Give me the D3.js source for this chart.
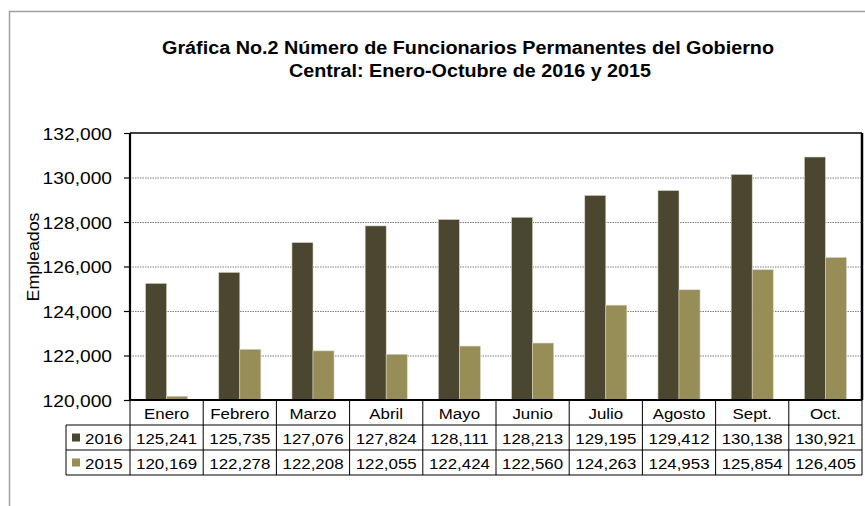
<!DOCTYPE html>
<html>
<head>
<meta charset="utf-8">
<script src="https://cdn.jsdelivr.net/npm/d3@7"></script>
<style>
  body { margin: 0; background: #fff; }
  svg { font-family: Arial, "Liberation Sans", sans-serif; }
  .grid line { stroke: #808080; stroke-dasharray: 1.5 1; }
  .grid path { display: none; }
</style>
</head>
<body>
<div id="chart"></div>
<script>
var months = ["Enero", "Febrero", "Marzo", "Abril", "Mayo", "Junio", "Julio", "Agosto", "Sept.", "Oct."];
var years = ["2016", "2015"];
var values2016 = [125241, 125735, 127076, 127824, 128111, 128213, 129195, 129412, 130138, 130921];
var values2015 = [120169, 122278, 122208, 122055, 122424, 122560, 124263, 124953, 125854, 126405];
var yTicks = [120000, 122000, 124000, 126000, 128000, 130000, 132000];
var colors = ["#4b462f", "#968d57"];

var W = 865, H = 506;
var margin = { top: 133, right: 3, bottom: 106, left: 130 },
    width = W - margin.left - margin.right,
    height = H - margin.top - margin.bottom;
var rowH = 25;
var sx = 1.13;   // the reference text is a bit wider than plain Arial
var sxTab = 1.09;

var series = [values2016, values2015];
var fmt = d3.format(",");

// put a text at (x, y) stretched horizontally
function stretched(sel, x, y, s) {
  return sel.attr("transform", "translate(" + x + "," + y + ") scale(" + (s || sx) + ",1)");
}

var svg = d3.select("#chart").append("svg")
    .attr("width", W)
    .attr("height", H);

// outer chart frame
svg.append("rect")
    .attr("x", 9.5).attr("y", 11.5)
    .attr("width", W).attr("height", H)
    .attr("fill", "none")
    .attr("stroke", "#a0a0a0")
    .attr("stroke-width", 1.5);

svg.append("text")
    .attr("x", 468).attr("y", 54)
    .attr("text-anchor", "middle")
    .attr("textLength", 612).attr("lengthAdjust", "spacingAndGlyphs")
    .style("font-weight", "bold").style("font-size", "18px")
    .text("Gráfica No.2 Número de Funcionarios Permanentes del Gobierno");
svg.append("text")
    .attr("x", 470).attr("y", 77)
    .attr("text-anchor", "middle")
    .attr("textLength", 362).attr("lengthAdjust", "spacingAndGlyphs")
    .style("font-weight", "bold").style("font-size", "18px")
    .text("Central: Enero-Octubre de 2016 y 2015");

var g = svg.append("g")
    .attr("transform", "translate(" + margin.left + "," + margin.top + ")");

var x = d3.scaleBand()
    .domain(months)
    .range([0, width]);

var x1 = d3.scaleBand()
    .domain(years)
    .range([0, x.bandwidth()])
    .paddingOuter(0.74)
    .paddingInner(0);

var y = d3.scaleLinear()
    .domain([120000, 132000])
    .range([height, 0]);

// gridlines
g.append("g")
    .attr("class", "grid")
    .call(d3.axisLeft(y).tickValues(yTicks.slice(1, -1)).tickSize(-width).tickFormat(""));

// bars
var groups = g.selectAll(".month")
    .data(months)
    .enter().append("g")
    .attr("class", "month")
    .attr("transform", function(d) { return "translate(" + x(d) + ",0)"; });

groups.selectAll("rect")
    .data(function(d, i) { return years.map(function(yr, k) { return { year: yr, k: k, v: series[k][i] }; }); })
    .enter().append("rect")
    .attr("x", function(d) { return x1(d.year); })
    .attr("y", function(d) { return y(d.v); })
    .attr("width", x1.bandwidth())
    .attr("height", function(d) { return height - y(d.v); })
    .attr("fill", function(d) { return colors[d.k]; })
    .attr("stroke", "#d8d4c0")
    .attr("stroke-width", 0.6);

// plot frame
g.append("line").attr("x1", 0).attr("x2", width).attr("y1", 0).attr("y2", 0)
    .attr("stroke", "#000").attr("stroke-width", 1.5);
g.append("line").attr("x1", width).attr("x2", width).attr("y1", 0).attr("y2", height)
    .attr("stroke", "#000").attr("stroke-width", 2.5);

// y axis
var yAxis = g.append("g")
    .call(d3.axisLeft(y).tickValues(yTicks).tickSize(6).tickFormat(fmt));
yAxis.select(".domain").attr("stroke-width", 2.2).attr("d", "M0,0V" + height);
yAxis.selectAll(".tick line").attr("stroke-width", 1.2);
yAxis.selectAll("text")
    .attr("x", null).attr("dy", null)
    .attr("y", 6)
    .attr("transform", "translate(-18,0) scale(" + sx + ",1)")
    .style("font-size", "17px").attr("fill", "#000");

g.append("line").attr("x1", 0).attr("x2", width).attr("y1", height).attr("y2", height)
    .attr("stroke", "#000").attr("stroke-width", 2);

svg.append("text")
    .attr("transform", "translate(39," + 257 + ") rotate(-90)")
    .attr("text-anchor", "middle")
    .attr("textLength", 89).attr("lengthAdjust", "spacingAndGlyphs")
    .style("font-size", "16px")
    .text("Empleados");

// data table
var table = g.append("g").attr("transform", "translate(0," + height + ")");
var legendLeft = -64;

table.selectAll(".mlabel")
    .data(months)
    .enter().append("text")
    .attr("text-anchor", "middle")
    .style("font-size", "15.5px")
    .each(function(d) { stretched(d3.select(this), x(d) + x.bandwidth() / 2, rowH / 2 + 6, sxTab); })
    .text(function(d) { return d; });

// vertical cell borders
table.selectAll(".vline")
    .data(months.concat(["end"]))
    .enter().append("line")
    .attr("x1", function(d) { return d === "end" ? width : x(d); })
    .attr("x2", function(d) { return d === "end" ? width : x(d); })
    .attr("y1", 0).attr("y2", rowH * 3)
    .attr("stroke", "#000").attr("stroke-width", 1);

// horizontal borders
[1, 2, 3].forEach(function(r) {
  table.append("line")
      .attr("x1", legendLeft).attr("x2", width)
      .attr("y1", r * rowH).attr("y2", r * rowH)
      .attr("stroke", "#000").attr("stroke-width", 1);
});
table.append("line")
    .attr("x1", legendLeft).attr("x2", legendLeft)
    .attr("y1", rowH).attr("y2", rowH * 3)
    .attr("stroke", "#000").attr("stroke-width", 1);

years.forEach(function(yr, k) {
  var row = table.append("g").attr("transform", "translate(0," + (rowH * (k + 1)) + ")");
  row.append("rect")
      .attr("x", legendLeft + 6).attr("y", rowH / 2 - 4)
      .attr("width", 8).attr("height", 8)
      .attr("fill", colors[k]);
  stretched(row.append("text"), legendLeft + 19, rowH / 2 + 6, sxTab)
      .style("font-size", "15.5px")
      .text(yr);
  row.selectAll(".val")
      .data(series[k])
      .enter().append("text")
      .attr("text-anchor", "middle")
      .style("font-size", "15.5px")
      .each(function(d, i) { stretched(d3.select(this), x(months[i]) + x.bandwidth() / 2, rowH / 2 + 6, sxTab); })
      .text(fmt);
});
</script>
</body>
</html>
